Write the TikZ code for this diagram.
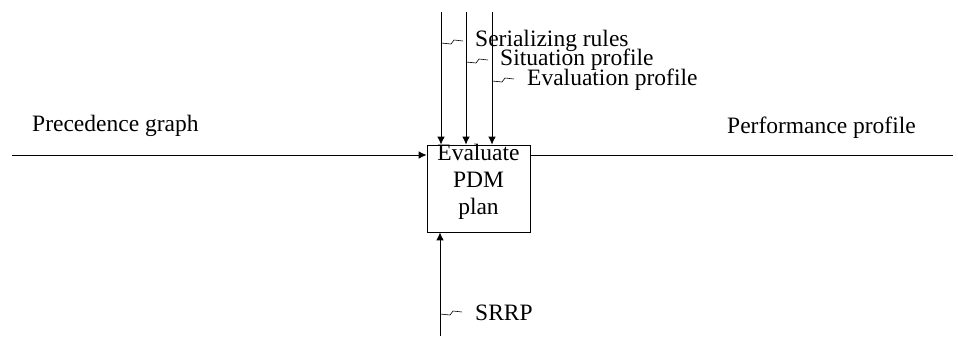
\documentclass[tikz,border=0pt]{standalone}
\usepackage{fontspec}
\setmainfont{Liberation Serif}
\usetikzlibrary{arrows.meta}
\tikzset{
  lbl/.style={font=\fontsize{23.5}{27}\selectfont, inner sep=0pt},
  flow/.style={line width=0.9pt, -{Latex[length=8pt,width=7.5pt]}},
  plain/.style={line width=0.9pt},
  squig/.style={line width=0.6pt},
  actbox/.style={draw, line width=0.7pt, minimum width=103pt, minimum height=87pt, inner sep=0pt}
}
\begin{document}
\begin{tikzpicture}[x=1pt,y=-1pt]
\useasboundingbox (0,0) rectangle (958,337);
% activity box
\node[actbox] (box) at (478.5,188.5) {};
\node[lbl, align=center] (boxlabel) at (478.5,182) {Evaluate\\PDM\\plan};
% input
\coordinate (inL) at (12,155);
\coordinate (outR) at (953,155);
\draw[flow] (inL) -- (inL -| box.west);
\draw[plain] (box.east |- outR) -- (outR);
\node[lbl, anchor=west] (prec) at (32,126) {Precedence graph};
\node[lbl, anchor=west] (perf) at (727,128) {Performance profile};
% controls
\coordinate (t1) at (441,12);
\coordinate (t2) at (466,12);
\coordinate (t3) at (492,12);
\draw[flow] (t1) -- (t1 |- box.north);
\draw[flow] (t2) -- (t2 |- box.north);
\draw[flow] (t3) -- (t3 |- box.north);
% mechanism
\coordinate (b1) at (440,336);
\draw[flow] (b1) -- (b1 |- box.south);
% squiggles
\coordinate (s1) at (441,42);
\coordinate (s2) at (466,61);
\coordinate (s3) at (492,80);
\coordinate (s4) at (440,313);
\foreach \s in {s1,s2,s3,s4}{
  \draw[squig] (\s) ++(0,1) -- ++(10,1) -- ++(3,-4) -- ++(9,1);
}
\node[lbl, anchor=west] (ser) at (475,41) {Serializing rules};
\node[lbl, anchor=west] (sit) at (500,60) {Situation profile};
\node[lbl, anchor=west] (eval) at (527,80) {Evaluation profile};
\node[lbl, anchor=west] (srrp) at (475,313) {SRRP};
\end{tikzpicture}
\end{document}
